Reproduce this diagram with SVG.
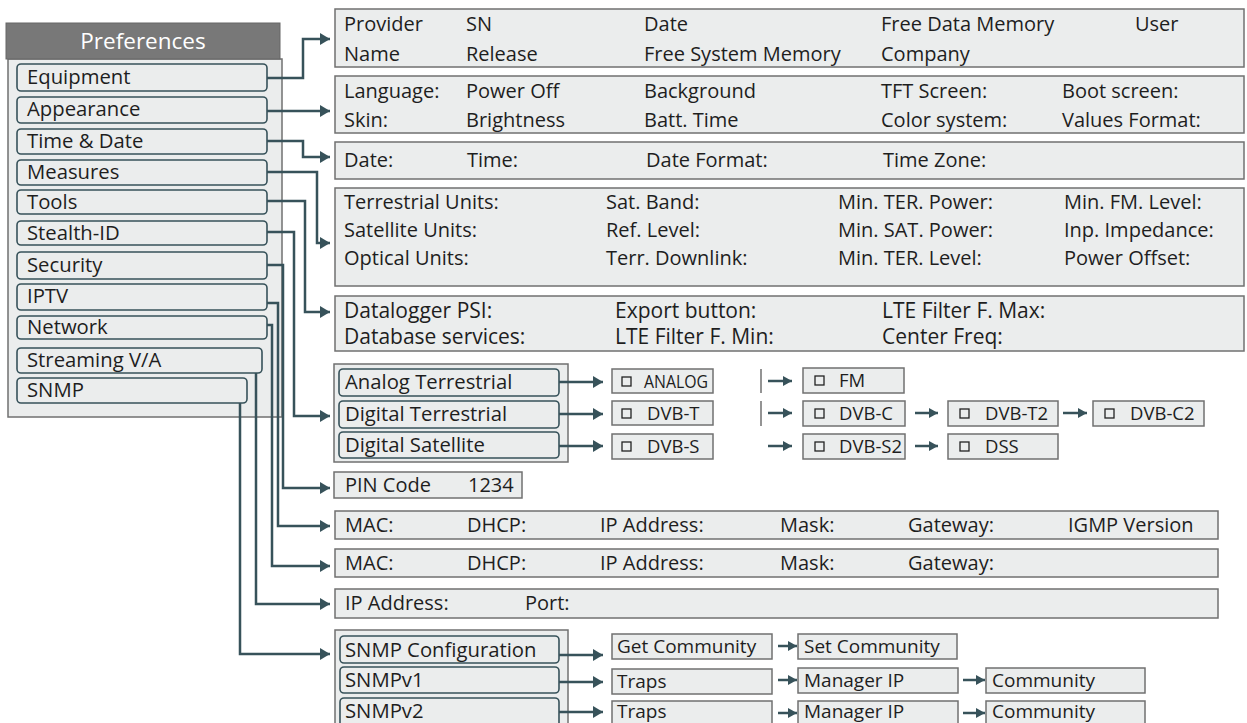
<svg xmlns="http://www.w3.org/2000/svg" width="1247" height="723" viewBox="0 0 1247 723">
<defs>
<marker id="ah" viewBox="0 0 10 12" markerWidth="10" markerHeight="12" markerUnits="userSpaceOnUse" refX="10" refY="6" orient="auto"><path d="M0,0 L10,6 L0,12 z" fill="#37525a"/></marker>
<marker id="as" viewBox="0 0 9 10" markerWidth="9" markerHeight="10" markerUnits="userSpaceOnUse" refX="9" refY="5" orient="auto"><path d="M0,0 L9,5 L0,10 z" fill="#37525a"/></marker>
</defs>
<style>
text{font-family:"Open Sans","Noto Sans","Liberation Sans",sans-serif;fill:#1e1e1e}
.t{font-size:20px}
.i{font-size:20.3px}
.b{font-size:21px}
.s{font-size:18.5px}
.n{font-size:19px}
.hd{font-size:22.5px;fill:#ffffff}
.box{fill:#ebeded;stroke:#707070;stroke-width:1.5}
.item{fill:#ebeded;stroke:#37525a;stroke-width:1.6}
.cb{fill:none;stroke:#222;stroke-width:1.3}
.edge{fill:none;stroke:#707070;stroke-width:1.5}
.c{fill:none;stroke:#37525a;stroke-width:2.5;marker-end:url(#ah)}
.cs{fill:none;stroke:#37525a;stroke-width:2.5;marker-end:url(#as)}
</style>

<g id="preferences">
<rect x="8" y="59" width="274" height="358" class="box"/>
<rect x="6" y="23" width="274" height="36" fill="#787878" stroke="#666" stroke-width="1"/>
<text x="143" y="49" class="hd" text-anchor="middle">Preferences</text>
</g>
<g id="item-equipment"><rect x="17" y="64" width="250" height="27" rx="4" class="item"/><text x="27" y="84" class="i">Equipment</text></g>
<g id="item-appearance"><rect x="17" y="97" width="250" height="26" rx="4" class="item"/><text x="27" y="116" class="i">Appearance</text></g>
<g id="item-timedate"><rect x="17" y="129" width="250" height="25" rx="4" class="item"/><text x="27" y="148" class="i">Time &amp; Date</text></g>
<g id="item-measures"><rect x="17" y="160" width="250" height="25" rx="4" class="item"/><text x="27" y="179" class="i">Measures</text></g>
<g id="item-tools"><rect x="17" y="190" width="250" height="24" rx="4" class="item"/><text x="27" y="209" class="i">Tools</text></g>
<g id="item-stealth"><rect x="17" y="221" width="250" height="24" rx="4" class="item"/><text x="27" y="240" class="i">Stealth-ID</text></g>
<g id="item-security"><rect x="17" y="252" width="250" height="27" rx="4" class="item"/><text x="27" y="272" class="i">Security</text></g>
<g id="item-iptv"><rect x="17" y="284" width="250" height="26" rx="4" class="item"/><text x="27" y="303" class="i">IPTV</text></g>
<g id="item-network"><rect x="17" y="316" width="250" height="23" rx="4" class="item"/><text x="27" y="334" class="i">Network</text></g>
<g id="item-streaming"><rect x="17" y="348" width="245" height="25" rx="4" class="item"/><text x="27" y="367" class="i">Streaming V/A</text></g>
<g id="item-snmp"><rect x="17" y="378" width="230" height="25" rx="4" class="item"/><text x="27" y="397" class="i">SNMP</text></g>

<g id="box-equipment">
<rect x="335" y="9" width="909" height="58" class="box"/>
<text class="t" y="30.5"><tspan x="344">Provider</tspan><tspan x="466">SN</tspan><tspan x="644">Date</tspan><tspan x="881">Free Data Memory</tspan><tspan x="1135">User</tspan></text>
<text class="t" y="60.5"><tspan x="344">Name</tspan><tspan x="466">Release</tspan><tspan x="644">Free System Memory</tspan><tspan x="881">Company</tspan></text>
</g>
<g id="box-appearance">
<rect x="335" y="76" width="909" height="57" class="box"/>
<text class="t" y="97.5"><tspan x="344">Language:</tspan><tspan x="466">Power Off</tspan><tspan x="644">Background</tspan><tspan x="881">TFT Screen:</tspan><tspan x="1062">Boot screen:</tspan></text>
<text class="t" y="126.5"><tspan x="344">Skin:</tspan><tspan x="466">Brightness</tspan><tspan x="644">Batt. Time</tspan><tspan x="881">Color system:</tspan><tspan x="1062">Values Format:</tspan></text>
</g>
<g id="box-timedate">
<rect x="335" y="142" width="909" height="37" class="box"/>
<text class="t" y="167"><tspan x="344">Date:</tspan><tspan x="467">Time:</tspan><tspan x="646">Date Format:</tspan><tspan x="883">Time Zone:</tspan></text>
</g>
<g id="box-measures">
<rect x="335" y="188" width="909" height="98" class="box"/>
<text class="t" y="209"><tspan x="344">Terrestrial Units:</tspan><tspan x="606">Sat. Band:</tspan><tspan x="838">Min. TER. Power:</tspan><tspan x="1064">Min. FM. Level:</tspan></text>
<text class="t" y="237"><tspan x="344">Satellite Units:</tspan><tspan x="606">Ref. Level:</tspan><tspan x="838">Min. SAT. Power:</tspan><tspan x="1064">Inp. Impedance:</tspan></text>
<text class="t" y="265"><tspan x="344">Optical Units:</tspan><tspan x="606">Terr. Downlink:</tspan><tspan x="838">Min. TER. Level:</tspan><tspan x="1064">Power Offset:</tspan></text>
</g>
<g id="box-tools">
<rect x="335" y="296" width="909" height="55" class="box"/>
<text class="b" y="318"><tspan x="344">Datalogger PSI:</tspan><tspan x="615">Export button:</tspan><tspan x="882">LTE Filter F. Max:</tspan></text>
<text class="b" y="344"><tspan x="344">Database services:</tspan><tspan x="615">LTE Filter F. Min:</tspan><tspan x="882">Center Freq:</tspan></text>
</g>

<g id="group-stealth">
<rect x="334" y="364" width="234" height="98" class="box"/>
<rect x="339" y="369" width="220" height="27" rx="4" class="item"/><text x="345" y="389" class="i">Analog Terrestrial</text>
<rect x="339" y="401" width="220" height="27" rx="4" class="item"/><text x="345" y="421" class="i">Digital Terrestrial</text>
<rect x="339" y="432" width="220" height="26" rx="4" class="item"/><text x="345" y="452" class="i">Digital Satellite</text>
</g>
<g id="opt-analog"><rect x="612" y="369" width="101" height="24" class="box"/><path d="M761,369 V393" class="edge"/><rect x="622" y="377" width="9" height="9" class="cb"/><text x="644" y="388" class="s" textLength="64" lengthAdjust="spacingAndGlyphs">ANALOG</text></g>
<g id="opt-fm"><rect x="803" y="368" width="101" height="25" class="box"/><rect x="815" y="376" width="9" height="9" class="cb"/><text x="839" y="387" class="s">FM</text></g>
<g id="opt-dvbt"><rect x="612" y="401" width="101" height="24" class="box"/><path d="M761,401 V426" class="edge"/><rect x="622" y="409" width="9" height="9" class="cb"/><text x="647" y="420" class="s">DVB-T</text></g>
<g id="opt-dvbc"><rect x="803" y="401" width="102" height="25" class="box"/><rect x="815" y="409" width="9" height="9" class="cb"/><text x="839" y="420" class="s">DVB-C</text></g>
<g id="opt-dvbt2"><rect x="948" y="401" width="110" height="25" class="box"/><rect x="960" y="409" width="9" height="9" class="cb"/><text x="985" y="420" class="s">DVB-T2</text></g>
<g id="opt-dvbc2"><rect x="1093" y="401" width="111" height="25" class="box"/><rect x="1105" y="409" width="9" height="9" class="cb"/><text x="1130" y="420" class="s">DVB-C2</text></g>
<g id="opt-dvbs"><rect x="612" y="434" width="101" height="25" class="box"/><rect x="622" y="442" width="9" height="9" class="cb"/><text x="647" y="453" class="s">DVB-S</text></g>
<g id="opt-dvbs2"><rect x="803" y="434" width="102" height="25" class="box"/><rect x="815" y="442" width="9" height="9" class="cb"/><text x="839" y="453" class="s">DVB-S2</text></g>
<g id="opt-dss"><rect x="948" y="434" width="110" height="25" class="box"/><rect x="960" y="442" width="9" height="9" class="cb"/><text x="985" y="453" class="s">DSS</text></g>

<g id="box-security"><rect x="334" y="472" width="188" height="26" class="box"/><text class="t" y="492"><tspan x="345">PIN Code</tspan><tspan x="468">1234</tspan></text></g>
<g id="box-iptv"><rect x="335" y="511" width="883" height="28" class="box"/>
<text class="t" y="532"><tspan x="345">MAC:</tspan><tspan x="467">DHCP:</tspan><tspan x="600">IP Address:</tspan><tspan x="780">Mask:</tspan><tspan x="908">Gateway:</tspan><tspan x="1068">IGMP Version</tspan></text></g>
<g id="box-network"><rect x="335" y="549" width="883" height="28" class="box"/>
<text class="t" y="570"><tspan x="345">MAC:</tspan><tspan x="467">DHCP:</tspan><tspan x="600">IP Address:</tspan><tspan x="780">Mask:</tspan><tspan x="908">Gateway:</tspan></text></g>
<g id="box-streaming"><rect x="335" y="589" width="883" height="29" class="box"/>
<text class="t" y="610"><tspan x="345">IP Address:</tspan><tspan x="525">Port:</tspan></text></g>

<g id="group-snmp">
<rect x="335" y="630" width="233" height="100" class="box"/>
<rect x="340" y="636" width="219" height="27" rx="4" class="item"/><text x="345" y="657" class="i">SNMP Configuration</text>
<rect x="340" y="667" width="219" height="26" rx="4" class="item"/><text x="345" y="687" class="i">SNMPv1</text>
<rect x="340" y="698" width="219" height="30" rx="4" class="item"/><text x="345" y="718" class="i">SNMPv2</text>
</g>
<g id="snmp-get"><rect x="612" y="634" width="160" height="25" class="box"/><text x="617" y="653" class="n">Get Community</text></g>
<g id="snmp-set"><rect x="798" y="634" width="159" height="25" class="box"/><text x="804" y="653" class="n">Set Community</text></g>
<g id="v1-traps"><rect x="612" y="669" width="160" height="25" class="box"/><text x="617" y="688" class="n">Traps</text></g>
<g id="v1-manager"><rect x="798" y="668" width="160" height="25" class="box"/><text x="804" y="687" class="n">Manager IP</text></g>
<g id="v1-community"><rect x="986" y="668" width="159" height="25" class="box"/><text x="992" y="687" class="n">Community</text></g>
<g id="v2-traps"><rect x="612" y="701" width="160" height="25" class="box"/><text x="617" y="718" class="n">Traps</text></g>
<g id="v2-manager"><rect x="798" y="701" width="160" height="25" class="box"/><text x="804" y="718" class="n">Manager IP</text></g>
<g id="v2-community"><rect x="986" y="701" width="159" height="25" class="box"/><text x="992" y="718" class="n">Community</text></g>

<g id="connectors">
<path class="c" d="M267,78 H303 V39 H330"/>
<path class="c" d="M267,111 H330"/>
<path class="c" d="M267,141 H303 V157 H330"/>
<path class="c" d="M267,172 H317 V243 H330"/>
<path class="c" d="M267,201 H305 V312 H330"/>
<path class="c" d="M267,232 H294 V416 H330"/>
<path class="c" d="M267,265 H283 V488 H330"/>
<path class="c" d="M267,303 H278 V526 H330"/>
<path class="c" d="M267,325 H272 V566 H330"/>
<path class="c" d="M256,373 V604 H330"/>
<path class="c" d="M240,403 V654 H330"/>
<path class="c" d="M559,382 H603"/>
<path class="c" d="M559,414 H603"/>
<path class="c" d="M559,446 H603"/>
<path class="cs" d="M768,381 H792"/>
<path class="cs" d="M768,413 H792"/>
<path class="cs" d="M768,446 H792"/>
<path class="cs" d="M915,413 H938"/>
<path class="cs" d="M915,446 H938"/>
<path class="cs" d="M1063,413 H1087"/>
<path class="c" d="M559,655 H603"/>
<path class="c" d="M559,682 H603"/>
<path class="c" d="M559,712 H603"/>
<path class="cs" d="M778,646 H797"/>
<path class="cs" d="M778,680 H797"/>
<path class="cs" d="M778,713 H797"/>
<path class="cs" d="M963,680 H985"/>
<path class="cs" d="M963,713 H985"/>
</g>
</svg>
